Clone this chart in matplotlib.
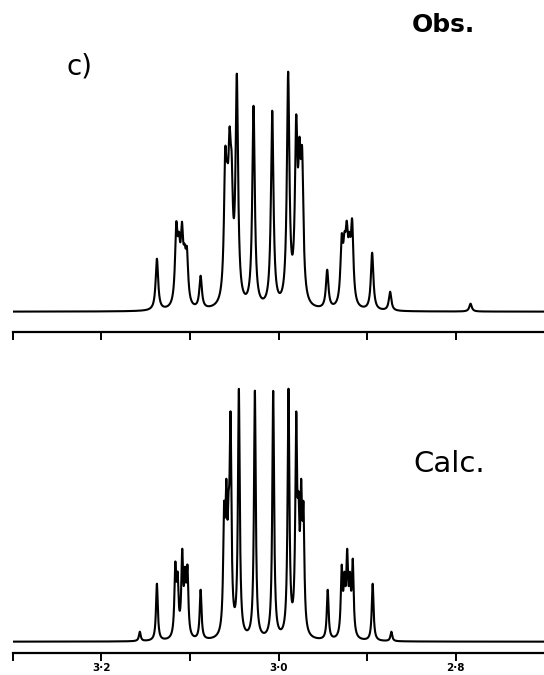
import numpy as np
import matplotlib.pyplot as plt

# line positions (ppm) and apparent peak heights
obs_ppm = [3.1374, 3.1155, 3.1125, 3.1091, 3.1061, 3.1035, 3.0880,
           3.0602, 3.0579, 3.0553, 3.0530, 3.0471, 3.0282, 3.0071,
           2.9891, 2.9800, 2.9763, 2.9733, 2.9450, 2.9286, 2.9255,
           2.9229, 2.9199, 2.9168, 2.8942, 2.8739, 2.7830]
obs_height = [53, 90, 80, 90, 68, 65, 36,
              164, 150, 185, 160, 238, 206, 201,
              240, 197, 175, 165, 42, 78, 80, 91, 80, 93, 59, 20, 8]

calc_ppm = [3.1567, 3.1374, 3.1166, 3.1140, 3.1088, 3.1056, 3.1029, 3.0880,
            3.0615, 3.0590, 3.0564, 3.0542, 3.0448, 3.0267, 3.0060,
            2.9887, 2.9800, 2.9774, 2.9744, 2.9718, 2.9444, 2.9286,
            2.9255, 2.9224, 2.9193, 2.9161, 2.8936, 2.8725]
calc_height = [10, 58, 80, 70, 93, 75, 77, 52,
               140, 163, 150, 230, 253, 251, 251,
               253, 230, 150, 163, 140, 52, 77,
               70, 93, 70, 83, 58, 10]

ticks = [3.3, 3.2, 3.1, 3.0, 2.9, 2.8]
tick_labels = ['', '3\u00b72', '', '3\u00b70', '', '2\u00b78']


def lorentz(d, hw):
    return hw**2 / (d**2 + hw**2)


def spectrum(x, pos, height, hw):
    # pick amplitudes so that the summed lines reach the read heights
    pos = np.array(pos)
    m = lorentz(pos[:, None] - pos[None, :], hw)
    amp = np.clip(np.linalg.solve(m, np.array(height, float)), 0, None)
    y = np.zeros_like(x)
    for p, a in zip(pos, amp):
        y += a * lorentz(x - p, hw)
    return y


x = np.linspace(3.30, 2.70, 9000)

W, H = 544, 675
fig = plt.figure(figsize=(W / 100, H / 100), dpi=100)

# axes boxes placed in pixels
ax1 = fig.add_axes([13 / W, 1 - 331.7 / H, (W - 13) / W, (331.7 - 20) / H])
ax2 = fig.add_axes([13 / W, 1 - 653 / H, (W - 13) / W, (653 - 380) / H])

ax1.plot(x, spectrum(x, obs_ppm, obs_height, 0.0017), color='black', lw=1.5)
ax1.set_ylim(-20, 291.7)
ax2.plot(x, spectrum(x, calc_ppm, calc_height, 0.00122), color='black', lw=1.5)
ax2.set_ylim(-11.3, 261.7)

for ax in (ax1, ax2):
    ax.set_xlim(3.30, 2.70)
    for s in ('left', 'right', 'top'):
        ax.spines[s].set_visible(False)
    ax.spines['bottom'].set_linewidth(1.6)
    ax.set_yticks([])
    ax.set_xticks(ticks)
    ax.tick_params(axis='x', direction='out', length=6, width=1.4, pad=1.5)

ax1.set_xticklabels([])
ax2.set_xticklabels(tick_labels, fontsize=7.5, fontweight='bold')

fig.text(443 / W, 1 - 25 / H, 'Obs.', fontsize=18, fontweight='bold',
         ha='center', va='center')
fig.text(79.5 / W, 1 - 66 / H, 'c)', fontsize=20, ha='center', va='center')
fig.text(449 / W, 1 - 464 / H, 'Calc.', fontsize=21, ha='center', va='center')

fig.savefig('out.png', dpi=100)
